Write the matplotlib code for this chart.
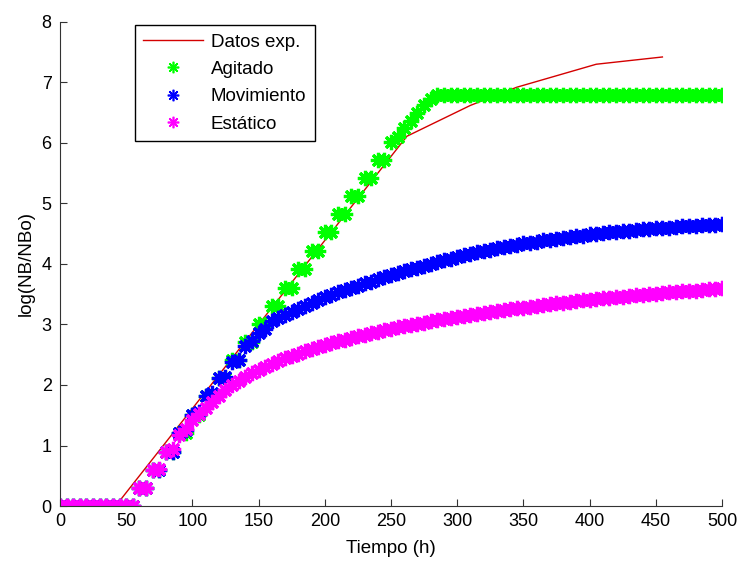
import numpy as np
import matplotlib.pyplot as plt

plt.rcParams.update({
    'font.family': ['Liberation Sans', 'DejaVu Sans'],
    'font.size': 13.5,
    'xtick.labelsize': 13,
    'ytick.labelsize': 13,
})

# tiempos del modelo (h)
horas = list(range(0, 505, 5))

# datos experimentales
t_exp = [0, 42, 262, 310, 345, 405, 455]
y_exp = [0, 0, 6.11, 6.62, 6.92, 7.30, 7.42]

agitado = [
    0, 0, 0, 0, 0, 0, 0, 0, 0, 0, 0, 0,
    0.30, 0.30, 0.60, 0.60, 0.90, 0.90, 1.20, 1.20, 1.51, 1.51,
    1.81, 1.81, 2.11, 2.11, 2.41, 2.41, 2.71, 2.71, 3.01, 3.01,
    3.31, 3.31, 3.61, 3.61, 3.91, 3.91, 4.21, 4.21, 4.52, 4.52,
    4.82, 4.82, 5.12, 5.12, 5.42, 5.42, 5.72, 5.72,
    6.02, 6.10, 6.25, 6.37, 6.50, 6.62, 6.72, 6.80,
] + [6.80] * 43

movimiento = [
    0, 0, 0, 0, 0, 0, 0, 0, 0, 0, 0, 0,
    0.30, 0.30, 0.60, 0.60, 0.90, 0.90, 1.20, 1.25, 1.51, 1.55,
    1.81, 1.86, 2.11, 2.14, 2.38, 2.42, 2.65, 2.72, 2.86, 2.92,
    3.05, 3.11,
    3.15, 3.21, 3.26, 3.31, 3.36, 3.41, 3.45, 3.49, 3.53, 3.57,
    3.60, 3.64, 3.68, 3.71, 3.75, 3.78, 3.82, 3.85, 3.88, 3.91,
    3.94, 3.97, 4.00, 4.03, 4.06, 4.09, 4.11, 4.14, 4.16, 4.19,
    4.21, 4.23, 4.26, 4.28, 4.30, 4.32, 4.34, 4.35, 4.37, 4.39,
    4.40, 4.42, 4.43, 4.45, 4.46, 4.47, 4.49, 4.50, 4.51, 4.52,
    4.53, 4.54, 4.55, 4.56, 4.57, 4.58, 4.59, 4.60, 4.60, 4.61,
    4.62, 4.63, 4.63, 4.64, 4.65, 4.65, 4.66,
]

estatico = [
    0, 0, 0, 0, 0, 0, 0, 0, 0, 0, 0, 0,
    0.30, 0.30, 0.60, 0.62, 0.90, 0.95, 1.17, 1.28, 1.42, 1.52,
    1.62, 1.72, 1.82, 1.92, 2.00, 2.07, 2.13, 2.19, 2.24, 2.30,
    2.35, 2.40, 2.44, 2.48, 2.52, 2.56, 2.60, 2.63, 2.66, 2.69,
    2.72, 2.75, 2.78, 2.81, 2.83, 2.86, 2.88, 2.91, 2.93, 2.95,
    2.97, 2.99, 3.01, 3.03, 3.05, 3.07, 3.09, 3.11, 3.12, 3.14,
    3.16, 3.17, 3.19, 3.21, 3.22, 3.24, 3.25, 3.27, 3.28, 3.29,
    3.31, 3.32, 3.33, 3.35, 3.36, 3.37, 3.38, 3.40, 3.41, 3.42,
    3.43, 3.44, 3.45, 3.46, 3.47, 3.48, 3.49, 3.50, 3.51, 3.52,
    3.53, 3.54, 3.55, 3.56, 3.56, 3.57, 3.58, 3.59, 3.60,
]

asterisco = (8, 2, 0)
ms, mew = 11, 2.3

fig = plt.figure(figsize=(7.38, 5.61), dpi=100)
ax = fig.add_axes([0.0813, 0.098, 0.897, 0.863])

ax.plot(t_exp, y_exp, color='#d40000', linewidth=1, label='Datos exp.')
ax.plot(horas, agitado, linestyle='none', marker=asterisco, markersize=ms,
        markeredgewidth=mew, color='#00ff00', label='Agitado')
ax.plot(horas, movimiento, linestyle='none', marker=asterisco, markersize=ms,
        markeredgewidth=mew, color='#0000ff', label='Movimiento')
ax.plot(horas, estatico, linestyle='none', marker=asterisco, markersize=ms,
        markeredgewidth=mew, color='#ff00ff', label='Estático')

ax.set_xlim(0, 500)
ax.set_ylim(0, 8)
ax.set_xticks(range(0, 501, 50))
ax.set_yticks(range(0, 9))
ax.spines['top'].set_visible(False)
ax.spines['right'].set_visible(False)
for s in ['left', 'bottom']:
    ax.spines[s].set_color('#333333')
ax.tick_params(direction='in', length=5, color='#333333')
ax.tick_params(axis='y', pad=6)
ax.tick_params(axis='x', pad=5)
ax.set_xlabel('Tiempo (h)', labelpad=7)
ax.set_ylabel('log(NB/NBo)', labelpad=5)

leg = ax.legend(loc='upper left', bbox_to_anchor=(0.183, 0.9554), bbox_transform=fig.transFigure,
                fancybox=False, framealpha=1, edgecolor='black', handlelength=3.2,
                handletextpad=0.4, labelspacing=0.55, borderpad=0.45,
                markerscale=0.75, borderaxespad=0)
leg.get_frame().set_linewidth(1)
for h in leg.legend_handles[1:]:
    h.set_markeredgewidth(1.2)

fig.savefig('out.png', dpi=100)
